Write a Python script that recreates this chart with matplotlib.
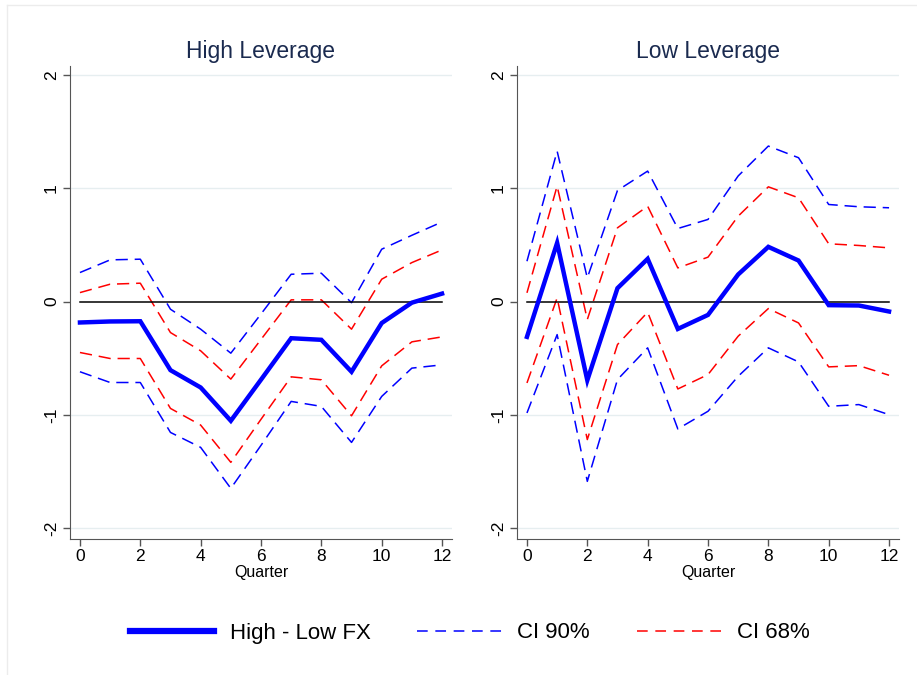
import matplotlib
matplotlib.use("Agg")
import matplotlib.pyplot as plt
from matplotlib.lines import Line2D

plt.rcParams['font.family'] = ['Liberation Sans', 'DejaVu Sans']

quarters = list(range(13))

# High Leverage panel
hi_est = [-0.185, -0.176, -0.174, -0.606, -0.759, -1.053, -0.69, -0.324, -0.338, -0.62, -0.19, -0.01, 0.07]
hi_u90 = [0.256, 0.368, 0.374, -0.068, -0.244, -0.456, -0.11, 0.241, 0.25, -0.01, 0.462, 0.585, 0.703]
hi_l90 = [-0.62, -0.715, -0.715, -1.156, -1.288, -1.65, -1.27, -0.882, -0.926, -1.244, -0.838, -0.588, -0.559]
hi_u68 = [0.079, 0.153, 0.162, -0.274, -0.435, -0.685, -0.335, 0.015, 0.015, -0.244, 0.197, 0.344, 0.456]
hi_l68 = [-0.45, -0.503, -0.503, -0.944, -1.091, -1.42, -1.04, -0.665, -0.691, -1.009, -0.568, -0.356, -0.312]

# Low Leverage panel
lo_est = [-0.312, 0.518, -0.695, 0.118, 0.377, -0.242, -0.118, 0.239, 0.483, 0.362, -0.032, -0.035, -0.088]
lo_u90 = [0.356, 1.328, 0.209, 0.981, 1.152, 0.645, 0.725, 1.109, 1.373, 1.27, 0.857, 0.837, 0.828]
lo_l90 = [-0.984, -0.292, -1.588, -0.689, -0.409, -1.125, -0.969, -0.66, -0.409, -0.533, -0.925, -0.91, -0.999]
lo_u68 = [0.077, 1.02, -0.159, 0.651, 0.842, 0.297, 0.392, 0.754, 1.013, 0.916, 0.51, 0.495, 0.474]
lo_l68 = [-0.719, 0.032, -1.219, -0.38, -0.094, -0.772, -0.645, -0.306, -0.062, -0.189, -0.577, -0.566, -0.651]

titles = ["High Leverage", "Low Leverage"]
xticks = [0, 2, 4, 6, 8, 10, 12]
yticks = [-2, -1, 0, 1, 2]
legend_labels = ["High - Low FX", "CI 90%", "CI 68%"]

W, H = 917, 675
fig = plt.figure(figsize=(W / 100, H / 100), dpi=100)
fig.patch.set_facecolor('white')

# faint outer frame
fig.add_artist(Line2D([7 / W, 1], [1 - 5 / H, 1 - 5 / H], color='#ececec', lw=1))
fig.add_artist(Line2D([7 / W, 7 / W], [1 - 5 / H, 0], color='#ececec', lw=1))

dash = (0, (8, 4.5))
axes_left = [70 / W, 517 / W]
panels = [
    (hi_est, hi_u90, hi_l90, hi_u68, hi_l68),
    (lo_est, lo_u90, lo_l90, lo_u68, lo_l68),
]

for i, (est, u90, l90, u68, l68) in enumerate(panels):
    ax = fig.add_axes([axes_left[i], 1 - 539 / H, 382 / W, (539 - 66) / H])
    ax.set_xlim(-0.33, 12.33)
    ax.set_ylim(-2.097, 2.08)
    for y in [-2, -1, 1, 2]:
        ax.axhline(y, color='#e6eef0', lw=1, zorder=0)
    ax.plot(quarters, u90, color='#0000ff', lw=1.1, linestyle=dash, zorder=2)
    ax.plot(quarters, l90, color='#0000ff', lw=1.1, linestyle=dash, zorder=2)
    ax.plot(quarters, u68, color='#ff0000', lw=1.1, linestyle=dash, zorder=2)
    ax.plot(quarters, l68, color='#ff0000', lw=1.1, linestyle=dash, zorder=2)
    ax.plot([0, 12], [0, 0], color='black', lw=1.1, zorder=3)
    ax.plot(quarters, est, color='#0000ff', lw=3.2, zorder=4, solid_joinstyle='miter')

    ax.spines['top'].set_visible(False)
    ax.spines['right'].set_visible(False)
    ax.spines['left'].set_color('#555555')
    ax.spines['bottom'].set_color('#555555')
    ax.set_xticks(xticks)
    ax.set_yticks(yticks)
    ax.set_yticklabels([str(v) for v in yticks], rotation=90, va='center')
    ax.tick_params(axis='both', direction='out', length=5, width=1, color='#555555',
                   labelsize=12.5, labelcolor='black')
    ax.tick_params(axis='x', pad=2)
    ax.tick_params(axis='y', pad=3)
    ax.set_xlabel("Quarter", fontsize=11.5, labelpad=1)
    ax.set_title(titles[i], fontsize=16.5, color='#1a2a4f', pad=6)
    ax.set_facecolor('white')

handles = [
    Line2D([], [], color='#0000ff', lw=4.5),
    Line2D([], [], color='#0000ff', lw=1.1, linestyle=(0, (7, 5))),
    Line2D([], [], color='#ff0000', lw=1.1, linestyle=(0, (7, 5))),
]
fig.legend(handles, legend_labels, loc='center', bbox_to_anchor=(0.512, 1 - 633 / H),
           ncol=3, frameon=False, fontsize=16, handlelength=3.8, columnspacing=2.1,
           handletextpad=0.7)

fig.savefig("out.png", dpi=100, facecolor='white')
